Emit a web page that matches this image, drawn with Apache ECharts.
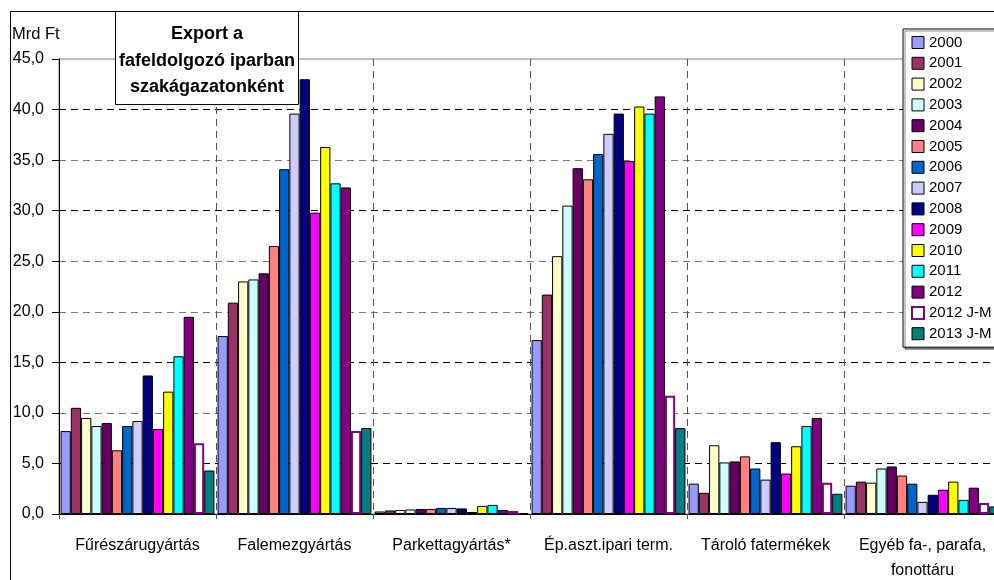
<!DOCTYPE html>
<html>
<head>
<meta charset="utf-8">
<script src="https://cdn.jsdelivr.net/npm/echarts@6/dist/echarts.min.js"></script>
<style>
html,body{margin:0;padding:0;background:#fff;overflow:hidden;width:994px;height:580px;}
#chart{width:1010px;height:580px;}
</style>
</head>
<body>
<div id="chart"></div>
<script>
const categories = ['Fűrészárugyártás','Falemezgyártás','Parkettagyártás*','Ép.aszt.ipari term.','Tároló fatermékek','Egyéb fa-, parafa,\nfonottáru'];
const seriesNames = ['2000','2001','2002','2003','2004','2005','2006','2007','2008','2009','2010','2011','2012','2012 J-M','2013 J-M'];
const v2000 = [8.2, 17.6, 0.25, 17.2, 3.0, 2.8];
const v2001 = [10.5, 20.9, 0.35, 21.7, 2.1, 3.2];
const v2002 = [9.5, 23.0, 0.4, 25.5, 6.8, 3.1];
const v2003 = [8.7, 23.2, 0.45, 30.5, 5.1, 4.5];
const v2004 = [9.0, 23.8, 0.5, 34.2, 5.2, 4.7];
const v2005 = [6.3, 26.5, 0.5, 33.1, 5.7, 3.8];
const v2006 = [8.7, 34.1, 0.6, 35.6, 4.5, 3.0];
const v2007 = [9.2, 39.6, 0.6, 37.6, 3.4, 1.2];
const v2008 = [13.7, 43.0, 0.55, 39.6, 7.1, 1.9];
const v2009 = [8.4, 29.8, 0.2, 34.9, 4.0, 2.4];
const v2010 = [12.1, 36.3, 0.8, 40.3, 6.7, 3.2];
const v2011 = [15.6, 32.7, 0.9, 39.6, 8.7, 1.4];
const v2012 = [19.5, 32.3, 0.4, 41.3, 9.5, 2.6];
const v2012JM = [7.0, 8.2, 0.3, 11.7, 3.1, 1.1];
const v2013JM = [4.3, 8.5, 0.1, 8.5, 2.0, 0.75];
const seriesValues = [v2000,v2001,v2002,v2003,v2004,v2005,v2006,v2007,v2008,v2009,v2010,v2011,v2012,v2012JM,v2013JM];
const colors = ['#9999FF','#993366','#FFFFCC','#CCFFFF','#660066','#FF8080','#0066CC','#CCCCFF','#000080','#FF00FF','#FFFF00','#00FFFF','#800080','#FFFFFF','#008080'];
const titleText = 'Export a\nfafeldolgozó iparban\nszakágazatonként';
const unitText = 'Mrd Ft';

const FONT = 'Liberation Sans, Arial, sans-serif';
const chart = echarts.init(document.getElementById('chart'), null, {renderer:'canvas'});

function itemStyleFor(i){
  if (seriesNames[i] === '2012 J-M') return {color:'#FFFFFF', borderColor:'#800080', borderWidth:2};
  return {color: colors[i], borderColor:'#000000', borderWidth:1};
}

const series = seriesNames.map((n,i)=>({
  name:n, type:'bar', data: seriesValues[i],
  barGap:'0%', barCategoryGap:'2%',
  itemStyle: itemStyleFor(i),
  emphasis:{disabled:true},
  animation:false
}));

const option = {
  animation:false,
  textStyle:{fontFamily:FONT},
  grid:{left:59, top:59, width:942, height:455, containLabel:false, outerBoundsMode:'none', show:true, borderColor:'#808080', borderWidth:1, backgroundColor:'transparent'},
  legend:{
    orient:'vertical', left:903, top:29,
    data: seriesNames.map((n,i)=>({name:n, icon:'rect', itemStyle:itemStyleFor(i)})),
    itemWidth:12, itemHeight:12, itemGap:5.8,
    padding:[6,20,6,8],
    backgroundColor:'#fff', borderColor:'#000', borderWidth:1,
    shadowColor:'rgba(0,0,0,0.45)', shadowOffsetX:2, shadowOffsetY:2, shadowBlur:0,
    textStyle:{fontFamily:FONT, fontSize:15, color:'#000', lineHeight:15},
    selectedMode:false
  },
  xAxis:{
    type:'category', data:categories, boundaryGap:true,
    axisLine:{lineStyle:{color:'#000', width:1}},
    axisTick:{show:true, length:5, interval:0, lineStyle:{color:'#555'}},
    axisLabel:{fontFamily:FONT, fontSize:16, color:'#000', margin:19, lineHeight:25, interval:0},
    splitLine:{show:true, interval:0, lineStyle:{color:'#555', type:[7,5], width:1}}
  },
  yAxis:{
    type:'value', min:0, max:45, interval:5,
    axisLine:{show:true, lineStyle:{color:'#000', width:1}},
    axisTick:{show:true, length:7, lineStyle:{color:'#000'}},
    axisLabel:{fontFamily:FONT, fontSize:16, color:'#000', margin:15, formatter:v=>v.toFixed(1).replace('.',',')},
    splitLine:{show:true, lineStyle:{color:['#000','#000','#777','#000','#777','#777','#000','#777','#000','rgba(0,0,0,0)'], type:[7,5], width:1}}
  },
  series: series,
  graphic:[
    {type:'rect', z:0, silent:true, shape:{x:10.5, y:11.5, width:1100, height:700}, style:{fill:'none', stroke:'#000', lineWidth:1}},
    {type:'text', z:100, x:12, y:34, style:{text:unitText, font:'16.5px '+FONT, fill:'#000', verticalAlign:'middle'}},
    {type:'rect', z:100, silent:true, shape:{x:115.5, y:11.5, width:183, height:93}, style:{fill:'#fff', stroke:'#000', lineWidth:1}},
    {type:'text', z:101, x:207, y:61, style:{text:titleText, font:'bold 18px '+FONT, fill:'#000', align:'center', verticalAlign:'middle', lineHeight:26.5}}
  ]
};
chart.setOption(option);
</script>
</body>
</html>
